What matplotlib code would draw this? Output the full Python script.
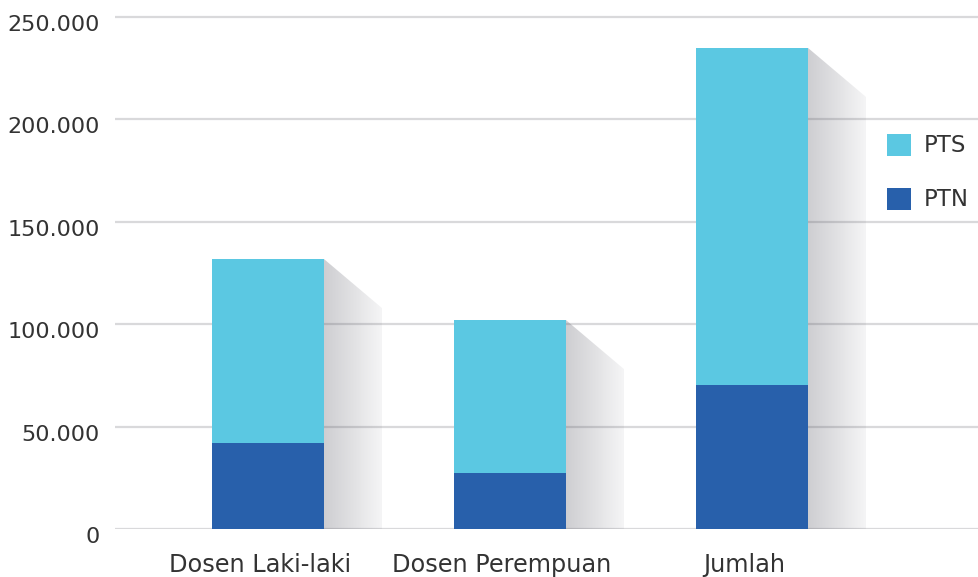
import numpy as np
import matplotlib.pyplot as plt
import matplotlib.transforms as mtransforms
from matplotlib.patches import Polygon, Rectangle

# Jumlah dosen menurut jenis kelamin dan status perguruan tinggi
categories = ['Dosen Laki-laki', 'Dosen Perempuan', 'Jumlah']
ptn = [42000, 27500, 70300]
pts = [89800, 74500, 164600]
series_names = ['PTS', 'PTN']
yticks = [0, 50000, 100000, 150000, 200000, 250000]
ytick_labels = ['0', '50.000', '100.000', '150.000', '200.000', '250.000']

c_pts = '#5bc8e2'
c_ptn = '#2860ab'
grid_c = '#d9d9db'
txt_c = '#333333'

plt.rcParams['font.family'] = ['DejaVu Sans']

fig = plt.figure(figsize=(9.79, 5.77), dpi=100)
W, H = 979, 577
# axes from x=115 to 979 px, y=0 at 529 px, ylim top 255000
ymax = 255000
px_per_unit = 2.048 / 1000
top_px = 529 - ymax * px_per_unit
ax = fig.add_axes([115 / W, (H - 529) / H, (979 - 115) / W, (529 - top_px) / H])

x = np.arange(len(categories))
spacing_px = 242.0
ax.set_xlim((115 - 268) / spacing_px, (979 - 268) / spacing_px)
ax.set_ylim(0, ymax)

width = 112 / spacing_px
totals = [a + b for a, b in zip(ptn, pts)]

# drop shadow to the right of each bar, fading out
sh_dx = 58 / spacing_px
sh_drop = 49 / px_per_unit
grad = np.linspace(0, 1, 256)
rgba = np.zeros((2, 256, 4))
rgba[..., 0] = 0.33
rgba[..., 1] = 0.33
rgba[..., 2] = 0.38
rgba[..., 3] = 0.29 - 0.23 * grad
for xi, tot in zip(x, totals):
    r = xi + width / 2
    poly = Polygon([(r, tot), (r + sh_dx, tot - sh_drop), (r + sh_dx, 0), (r, 0)],
                   closed=True, facecolor='none', edgecolor='none')
    ax.add_patch(poly)
    im = ax.imshow(rgba, extent=(r, r + sh_dx, 0, tot), aspect='auto',
                   interpolation='bilinear', zorder=2)
    im.set_clip_path(poly)

ax.bar(x, ptn, width, color=c_ptn, zorder=3)
ax.bar(x, pts, width, bottom=ptn, color=c_pts, zorder=3)

ax.set_yticks(yticks)
ax.set_yticklabels(ytick_labels)
ax.yaxis.grid(True, color=grid_c, linewidth=1.6, zorder=1)
ax.set_axisbelow(True)
ax.set_xticks(x)
ax.set_xticklabels(categories)
ax.tick_params(axis='both', length=0, colors=txt_c)
ax.tick_params(axis='y', pad=11, labelsize=16)
ax.tick_params(axis='x', pad=17, labelsize=17.3)
for s in ax.spines.values():
    s.set_visible(False)

# nudge labels: y labels sit a little under their gridlines, x labels a bit left
y_shift = mtransforms.ScaledTranslation(0, -6 / 100, fig.dpi_scale_trans)
for lbl in ax.get_yticklabels():
    lbl.set_transform(lbl.get_transform() + y_shift)
x_shift = mtransforms.ScaledTranslation(-8 / 100, 0, fig.dpi_scale_trans)
for lbl in ax.get_xticklabels():
    lbl.set_transform(lbl.get_transform() + x_shift)

# legend squares on the right
leg = [(series_names[0], c_pts, 134), (series_names[1], c_ptn, 188)]
for name, col, ytop in leg:
    fig.patches.append(Rectangle((887 / W, (H - ytop - 22) / H), 24 / W, 22 / H,
                                 transform=fig.transFigure, facecolor=col,
                                 edgecolor='none'))
    fig.text(924 / W, (H - ytop - 11) / H, name, fontsize=16.5, color=txt_c,
             va='center', ha='left')

fig.savefig('out.png', dpi=100)
